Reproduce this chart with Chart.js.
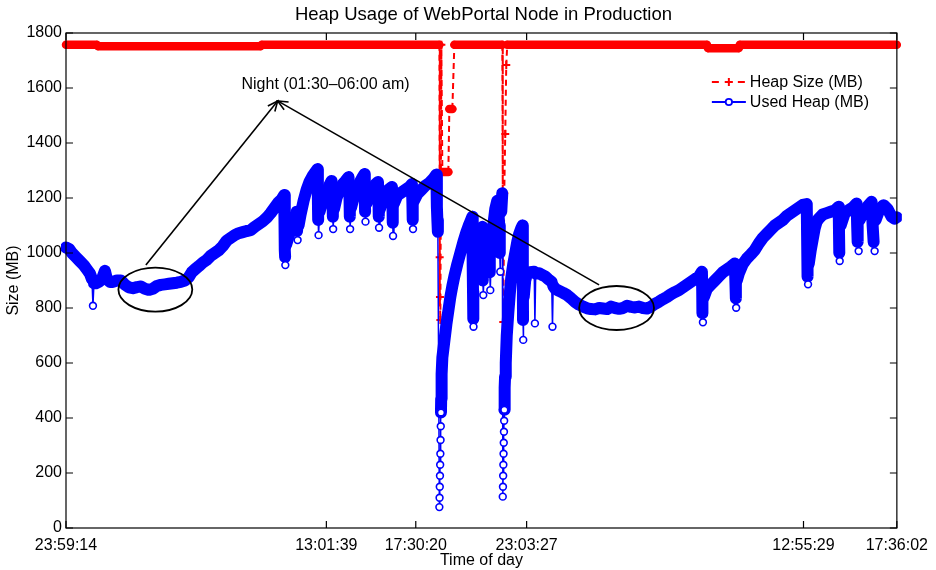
<!DOCTYPE html>
<html><head><meta charset="utf-8">
<script src="https://cdn.jsdelivr.net/npm/chart.js@4.4.1/dist/chart.umd.min.js"></script>
<style>html,body{margin:0;padding:0;background:#fff}canvas{display:block}</style>
</head><body>
<canvas id="c" width="936" height="570"></canvas>
<script>
// ---- data (hours since 23:59:14 start, MB) ----
const usedTime = [
 0.00,0.15,0.30,0.50,0.70,0.90,1.05,1.20,1.30,1.35,
 1.40,1.50,1.65,1.80,1.95,2.05,2.20,2.35,2.55,2.75,
 2.95,3.15,3.35,3.55,3.75,3.95,4.15,4.35,4.55,4.75,
 4.95,5.15,5.35,5.55,5.75,5.95,6.15,6.30,6.45,6.65,
 6.85,7.05,7.25,7.45,7.65,7.85,8.05,8.25,8.45,8.65,
 8.85,9.05,9.25,9.45,9.65,9.85,10.05,10.25,10.45,10.65,
 10.80,10.93,10.95,10.965,10.975,10.985,11.025,11.15,11.30,11.45,
 11.55,11.575,11.60,11.65,11.75,11.90,12.05,12.20,12.35,12.50,
 12.60,12.615,12.63,12.65,12.70,12.85,13.00,13.15,13.30,13.35,
 13.365,13.38,13.425,13.55,13.70,13.85,14.00,14.15,14.20,14.215,
 14.23,14.275,14.40,14.55,14.70,14.85,14.95,14.965,14.98,15.00,
 15.05,15.20,15.35,15.50,15.625,15.65,15.665,15.68,15.725,15.85,
 16.00,16.15,16.325,16.35,16.365,16.38,16.425,16.60,16.80,17.00,
 17.20,17.325,17.35,17.365,17.38,17.425,17.60,17.80,18.00,18.20,
 18.40,18.55,18.575,18.60,18.625,18.70,18.71,18.72,18.73,18.74,
 18.75,18.76,18.77,18.78,18.79,18.80,18.825,18.85,18.95,19.05,
 19.15,19.25,19.35,19.45,19.60,19.75,19.90,20.05,20.20,20.35,
 20.365,20.375,20.385,20.40,20.41,20.45,20.60,20.75,20.85,20.865,
 20.88,20.90,20.95,21.05,21.15,21.20,21.225,21.25,21.30,21.40,
 21.50,21.60,21.65,21.70,21.725,21.75,21.80,21.85,21.875,21.885,
 21.895,21.905,21.915,21.925,21.935,21.945,21.955,21.965,21.975,21.99,
 22.025,22.075,22.15,22.225,22.30,22.40,22.50,22.60,22.70,22.80,
 22.865,22.88,22.89,22.90,22.925,23.00,23.10,23.25,23.45,23.485,
 23.525,23.70,23.85,24.00,24.15,24.325,24.365,24.40,24.50,24.70,
 24.90,25.10,25.30,25.50,25.70,25.90,26.10,26.30,26.50,26.70,
 26.90,27.10,27.30,27.50,27.70,27.90,28.10,28.30,28.50,28.70,
 28.90,29.10,29.30,29.50,29.70,29.90,30.10,30.30,30.50,30.70,
 30.90,31.10,31.30,31.50,31.70,31.85,31.865,31.875,31.90,31.95,
 32.10,32.30,32.50,32.70,32.90,33.10,33.30,33.50,33.525,33.55,
 33.565,33.60,33.70,33.90,34.10,34.30,34.50,34.70,34.90,35.10,
 35.30,35.50,35.70,35.90,36.10,36.30,36.50,36.70,36.90,37.10,
 37.115,37.13,37.15,37.165,37.20,37.30,37.40,37.50,37.60,37.70,
 37.90,38.10,38.30,38.50,38.70,38.715,38.73,38.75,38.80,39.00,
 39.20,39.40,39.60,39.625,39.65,39.70,39.75,39.95,40.15,40.35,
 40.40,40.45,40.50,40.55,40.75,40.95,41.15,41.35,41.50,41.61
];
const usedMB = [
 1020,1015,1000,985,970,955,940,925,905,808,
 890,890,895,905,935,905,895,895,900,900,
 885,875,872,876,878,870,866,870,880,884,
 886,888,890,892,895,900,912,930,940,952,
 965,975,990,1000,1010,1025,1045,1055,1065,1072,
 1076,1080,1083,1095,1105,1115,1128,1145,1165,1185,
 1195,1211,1100,1011,985,956,1030,1060,1100,1130,
 1150,1080,1047,1100,1140,1190,1230,1260,1280,1295,
 1305,1200,1120,1065,1150,1190,1220,1240,1262,1200,
 1132,1087,1160,1200,1230,1250,1262,1276,1200,1132,
 1087,1165,1200,1235,1255,1275,1287,1200,1150,1114,
 1180,1215,1235,1250,1258,1200,1132,1092,1160,1195,
 1215,1230,1240,1180,1110,1062,1180,1210,1220,1230,
 1240,1251,1180,1120,1087,1190,1215,1230,1245,1255,
 1270,1285,1168,1120,1077,76,110,150,190,230,
 270,320,370,420,470,520,560,620,680,740,
 790,840,880,915,960,1000,1040,1075,1105,1132,
 1040,950,860,760,732,1000,1040,1080,1095,980,
 900,847,950,1030,1060,1000,930,865,1000,1100,
 1160,1190,1150,1100,1000,932,1150,1217,114,150,
 190,230,270,310,350,390,430,470,510,550,
 600,700,780,850,910,960,1000,1040,1070,1090,
 1100,920,756,684,840,900,926,930,932,744,
 925,926,920,915,905,895,732,880,870,862,
 855,847,835,822,812,805,799,796,795,800,
 798,796,805,800,797,800,808,804,802,805,
 800,798,805,815,823,832,840,850,858,865,
 875,885,895,905,915,932,860,781,748,840,
 870,885,900,915,930,940,950,962,900,835,
 801,900,926,960,980,995,1011,1035,1055,1070,
 1085,1100,1110,1120,1135,1145,1155,1165,1175,1178,
 1080,990,914,886,960,1010,1050,1090,1115,1125,
 1140,1145,1150,1155,1168,1080,1000,971,1100,1145,
 1156,1165,1180,1100,1040,1007,1120,1150,1170,1186,
 1100,1040,1007,1120,1160,1174,1160,1132,1125,1130
];
const heapTime = [0,1.55,1.60,9.75,9.80,18.70,18.715,18.73,18.75,18.80,18.85,19.00,19.15,19.20,19.35,19.45,
 21.85,21.875,21.90,21.95,22.00,22.05,22.10,32.10,32.15,33.70,33.75,41.61];
const heapMB = [1757,1757,1752,1752,1757,1757,985,840,756,1757,1295,1295,1295,1524,1524,1757,
 1757,1218,749,1218,1433,1684,1757,1757,1745,1745,1757,1757];

const tickHours = [0, 13.0403, 17.5183, 23.0703, 36.9375, 41.6133];
const tickLabels = ['23:59:14','13:01:39','17:30:20','23:03:27','12:55:29','17:36:02'];
const seriesNames = ['Heap Size (MB)', 'Used Heap (MB)'];
const chartTitle = 'Heap Usage of WebPortal Node in Production';
const xTitle = 'Time of day';
const yTitle = 'Size (MB)';

// annotation (data coordinates)
const nightLabel = 'Night (01:30\u201306:00 am)';
const nightLabelAt = {t: 13.0, mb: 1614};
const nightEllipses = [{t: 4.475, mb: 867, halfT: 1.85, halfMB: 80}, {t: 27.575, mb: 800, halfT: 1.875, halfMB: 80}];
const arrowTip = {t: 10.6, mb: 1553};
const arrowTails = [{t: 4.0, mb: 956}, {t: 26.7, mb: 884}];

// ---- rendering ----
const FONT = "'Liberation Sans', Arial, Helvetica, sans-serif";
const BLUE = '#0000ff', RED = '#ff0000';
const dy = c => Math.abs(c.p1.parsed.y - c.p0.parsed.y);
// isolated low samples (GC outliers) and the deep restart stacks are drawn thin with hollow circles
const isDip = usedMB.map((v, i, a) => (i > 0 && i < a.length - 1 && a[i - 1] - v > 25 && a[i + 1] - v > 25) || v < 450);
const thinSeg = c => (isDip[c.p0DataIndex] && usedMB[c.p0DataIndex] >= 450) || (isDip[c.p1DataIndex] && usedMB[c.p1DataIndex] >= 450) || (usedMB[c.p0DataIndex] < 450 && usedMB[c.p1DataIndex] < 450) || (usedMB[c.p0DataIndex] < 450 && usedMB[c.p1DataIndex] > 1000) || (usedMB[c.p1DataIndex] < 450 && usedMB[c.p0DataIndex] > 1000);

const deco = {
  id: 'deco',
  afterDatasetsDraw(chart) {
    const {ctx, chartArea: a, scales: {x, y}} = chart;
    const px = t => x.getPixelForValue(t), py = v => y.getPixelForValue(v);
    ctx.save();
    ctx.strokeStyle = '#000'; ctx.fillStyle = '#000';
    ctx.lineWidth = 1.8;
    nightEllipses.forEach(e => {
      const cx = px(e.t), cy = py(e.mb);
      ctx.beginPath();
      ctx.ellipse(cx, cy, Math.abs(px(e.t + e.halfT) - cx), Math.abs(py(e.mb + e.halfMB) - cy), 0, 0, Math.PI * 2);
      ctx.stroke();
    });
    ctx.lineWidth = 1.6;
    const tx = px(arrowTip.t), ty = py(arrowTip.mb);
    arrowTails.forEach(s => {
      const sx = px(s.t), sy = py(s.mb);
      ctx.beginPath(); ctx.moveTo(sx, sy); ctx.lineTo(tx, ty); ctx.stroke();
      const ang = Math.atan2(ty - sy, tx - sx), L = 11, w = 0.42;
      ctx.beginPath();
      ctx.moveTo(tx - L * Math.cos(ang - w), ty - L * Math.sin(ang - w));
      ctx.lineTo(tx, ty);
      ctx.lineTo(tx - L * Math.cos(ang + w), ty - L * Math.sin(ang + w));
      ctx.stroke();
    });
    ctx.font = '16px ' + FONT; ctx.textAlign = 'center'; ctx.textBaseline = 'middle';
    ctx.fillText(nightLabel, px(nightLabelAt.t), py(nightLabelAt.mb));
    ctx.lineWidth = 1.2;
    ctx.strokeRect(a.left, a.top, a.right - a.left, a.bottom - a.top);
    ctx.beginPath();
    x.ticks.forEach(tk => { const p = px(tk.value); ctx.moveTo(p, a.bottom); ctx.lineTo(p, a.bottom - 7); ctx.moveTo(p, a.top); ctx.lineTo(p, a.top + 7); });
    y.ticks.forEach(tk => { const p = py(tk.value); ctx.moveTo(a.left, p); ctx.lineTo(a.left + 7, p); ctx.moveTo(a.right, p); ctx.lineTo(a.right - 7, p); });
    ctx.stroke();
    ctx.font = '18.5px ' + FONT;
    ctx.fillText(chartTitle, (a.left + a.right) / 2 + 2, 14.5);
    const lx = a.right - 185, ly1 = 82, ly2 = 102;
    ctx.font = '16px ' + FONT; ctx.textAlign = 'left';
    ctx.strokeStyle = RED; ctx.lineWidth = 2; ctx.setLineDash([7, 6]);
    ctx.beginPath(); ctx.moveTo(lx, ly1); ctx.lineTo(lx + 34, ly1); ctx.stroke();
    ctx.setLineDash([]);
    ctx.beginPath(); ctx.moveTo(lx + 13, ly1); ctx.lineTo(lx + 21, ly1); ctx.moveTo(lx + 17, ly1 - 4); ctx.lineTo(lx + 17, ly1 + 4); ctx.stroke();
    ctx.strokeStyle = BLUE; ctx.lineWidth = 1.8;
    ctx.beginPath(); ctx.moveTo(lx, ly2); ctx.lineTo(lx + 34, ly2); ctx.stroke();
    ctx.fillStyle = '#fff';
    ctx.beginPath(); ctx.arc(lx + 17, ly2, 3.2, 0, Math.PI * 2); ctx.fill(); ctx.stroke();
    ctx.fillStyle = '#000';
    ctx.fillText(seriesNames[0], lx + 38, ly1 + 1);
    ctx.fillText(seriesNames[1], lx + 38, ly2 + 1);
    ctx.restore();
  }
};

new Chart(document.getElementById('c'), {
  type: 'line',
  data: {
    datasets: [
      {
        label: seriesNames[0],
        data: heapTime.map((t, i) => ({x: t, y: heapMB[i]})),
        order: 1, clip: 5,
        borderColor: RED, borderWidth: 2, borderDash: [], tension: 0,
        borderCapStyle: 'round', borderJoinStyle: 'round',
        pointStyle: 'cross', pointRadius: 4, pointBorderWidth: 2, pointBorderColor: RED, pointBackgroundColor: RED,
        segment: {
          borderWidth: c => dy(c) > 20 ? 2 : 8.5,
          borderDash: c => dy(c) > 20 ? [6, 4] : [],
          borderCapStyle: c => dy(c) > 20 ? 'butt' : 'round'
        }
      },
      {
        label: seriesNames[1],
        data: usedTime.map((t, i) => ({x: t, y: usedMB[i]})),
        order: 0, clip: 5,
        borderColor: BLUE, borderWidth: 12, tension: 0,
        borderCapStyle: 'round', borderJoinStyle: 'round',
        pointStyle: 'circle', pointRadius: 3.4, pointBorderWidth: 1.6, pointBorderColor: BLUE,
        pointBackgroundColor: c => isDip[c.dataIndex] ? '#fff' : BLUE,
        segment: { borderWidth: c => thinSeg(c) ? 1.5 : 12 }
      }
    ]
  },
  options: {
    responsive: false, animation: false, devicePixelRatio: 1, events: [],
    layout: {padding: {top: 33, right: 37, bottom: 0, left: 0}},
    plugins: {legend: {display: false}, tooltip: {enabled: false}, title: {display: false}},
    scales: {
      x: {
        type: 'linear', min: 0, max: tickHours[tickHours.length - 1],
        grid: {display: false, drawTicks: false}, border: {display: false},
        afterBuildTicks: ax => { ax.ticks = tickHours.map(v => ({value: v})); },
        afterFit: s => { s.height = 42; },
        ticks: {autoSkip: false, maxRotation: 0, padding: 8, color: '#000', font: {family: FONT, size: 16},
          callback: (v, i) => tickLabels[i]},
        title: {display: true, text: xTitle, color: '#000', font: {family: FONT, size: 16}, padding: {top: 0, bottom: 0}}
      },
      y: {
        min: 0, max: 1800,
        grid: {display: false, drawTicks: false}, border: {display: false},
        afterFit: s => { s.width = 66; },
        ticks: {stepSize: 200, padding: 4, color: '#000', font: {family: FONT, size: 16}, callback: v => String(v)},
        title: {display: true, text: yTitle, color: '#000', font: {family: FONT, size: 16}, padding: {top: 4, bottom: 0}}
      }
    }
  },
  plugins: [deco]
});
</script>
</body></html>
